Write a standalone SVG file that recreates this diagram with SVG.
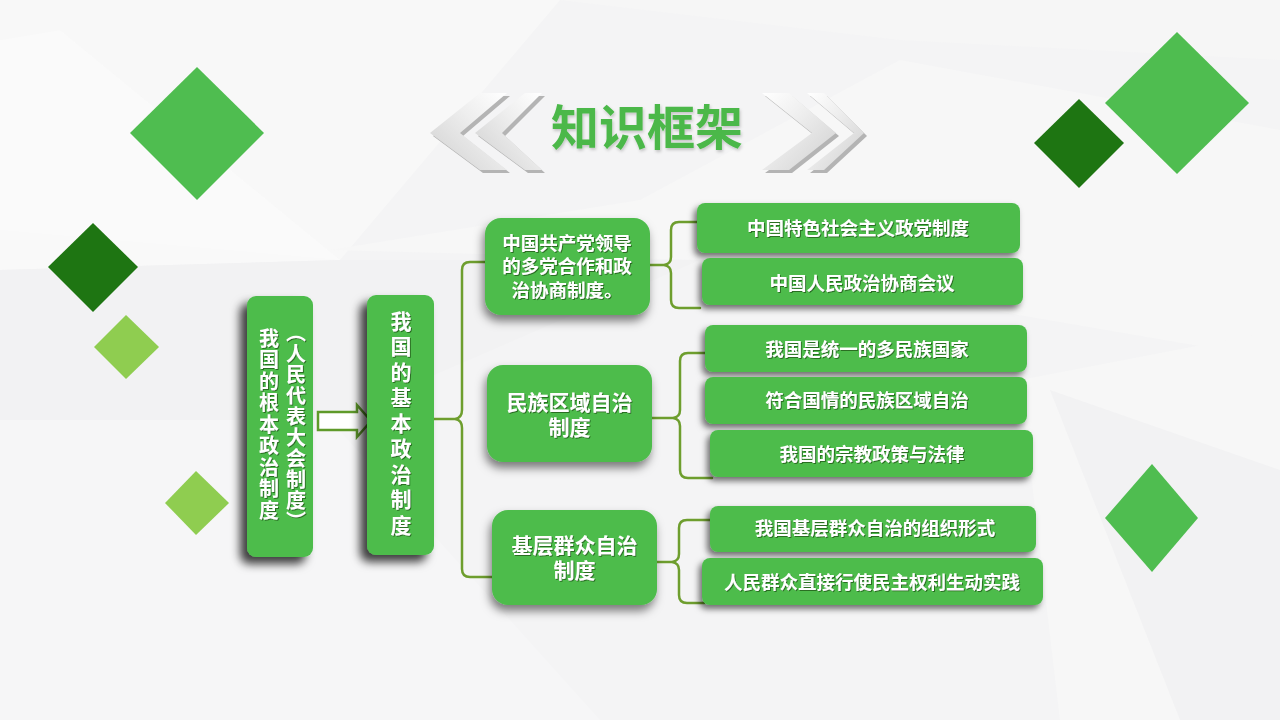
<svg xmlns="http://www.w3.org/2000/svg" width="1280" height="720" viewBox="0 0 1280 720">
<defs>
<style>
.node{fill:#4dbc4c;}
.t{font-family:"Noto Sans CJK SC","Noto Sans",sans-serif;font-weight:700;fill:#ffffff;}
.brace{fill:none;stroke:#6e9e2e;stroke-width:2.5;stroke-linecap:round;stroke-linejoin:round;}
.chev{fill:url(#chevG);}
.chevS{fill:#b4b4b4;}
</style>
<linearGradient id="chevG" x1="0" y1="1" x2="1" y2="0">
<stop offset="0" stop-color="#cfcfcf"/>
<stop offset="0.6" stop-color="#eeeeee"/>
<stop offset="1" stop-color="#ffffff"/>
</linearGradient>
<linearGradient id="chevG2" x1="1" y1="1" x2="0" y2="0">
<stop offset="0" stop-color="#cfcfcf"/>
<stop offset="0.6" stop-color="#eeeeee"/>
<stop offset="1" stop-color="#ffffff"/>
</linearGradient>
<filter id="shV" x="-40%" y="-10%" width="160%" height="125%">
<feDropShadow dx="-7" dy="7" stdDeviation="5" flood-color="#000" flood-opacity="0.75"/>
</filter>
<filter id="shM" x="-20%" y="-20%" width="140%" height="150%">
<feDropShadow dx="-2" dy="6" stdDeviation="5" flood-color="#000" flood-opacity="0.5"/>
</filter>
<filter id="shR" x="-10%" y="-30%" width="120%" height="170%">
<feDropShadow dx="-3" dy="4" stdDeviation="3" flood-color="#000" flood-opacity="0.55"/>
</filter>
<filter id="shT" x="-10%" y="-10%" width="120%" height="130%">
<feDropShadow dx="1" dy="1" stdDeviation="0.6" flood-color="#1a4d12" flood-opacity="0.7"/>
</filter>
<filter id="shTitle" x="-10%" y="-10%" width="120%" height="130%">
<feDropShadow dx="1" dy="2" stdDeviation="1.5" flood-color="#000" flood-opacity="0.2"/>
</filter>
</defs>

<g id="background">
<rect x="0" y="0" width="1280" height="720" fill="#f4f4f5"/>
<polygon points="0,0 560,0 340,260 0,230" fill="#f8f8f8"/>
<polygon points="0,40 60,30 340,260 0,270" fill="#fafafa" opacity="0.8"/>
<polygon points="330,250 640,200 900,60 1280,130 1280,360 700,260" fill="#f7f7f7"/>
<polygon points="0,270 340,260 700,260 330,420 0,420" fill="#f2f2f3"/>
<polygon points="0,420 330,420 600,720 0,720" fill="#f6f6f7"/>
<polygon points="1020,380 1280,330 1280,720 1060,720" fill="#f7f7f7"/>
<polygon points="1050,390 1280,470 1280,720 1180,720" fill="#f2f2f3"/>
<polygon points="560,0 1280,0 1280,60 900,40" fill="#f6f6f6"/>
</g>

<g id="diamonds">
<polygon points="197,67 264,133 197,200 130,133" fill="#4fbd50"/>
<polygon points="93,223 138,267 93,312 48,267" fill="#1e7512"/>
<polygon points="126,315 159,347 126,379 94,347" fill="#8fcd50"/>
<polygon points="196,471 229,503 196,535 165,503" fill="#8fcd50"/>
<polygon points="1177,32 1249,103 1177,174 1105,103" fill="#4fbd50"/>
<polygon points="1079,99 1124,143 1079,188 1034,143" fill="#1e7512"/>
<polygon points="1152,464 1198,518 1152,572 1105,518" fill="#4fbd50"/>
</g>

<g id="title">
<polygon class="chevS" points="483,96 510,96 463,136 510,173 483,173 433,136"/>
<polygon class="chev" points="480,93 507,93 460,133 507,170 480,170 430,133"/>
<polygon class="chevS" points="528,96 545,96 505,136 545,173 528,173 478,136"/>
<polygon class="chev" points="525,93 542,93 502,133 542,170 525,170 475,133"/>
<polygon class="chevS" points="765,96 792,96 839,136 792,173 765,173 815,136"/>
<polygon points="762,93 789,93 836,133 789,170 762,170 812,133" fill="url(#chevG2)"/>
<polygon class="chevS" points="810,96 827,96 867,136 827,173 810,173 857,136"/>
<polygon points="807,93 824,93 864,133 824,170 807,170 854,133" fill="url(#chevG2)"/>
<text x="647" y="145" text-anchor="middle" font-family="Noto Sans CJK SC, sans-serif" font-weight="700" font-size="48" fill="#4cb84a" filter="url(#shTitle)">知识框架</text>
</g>

<g id="connectors">
<polygon points="318,412 357,412 357,405 371,421 357,437 357,430 318,430" fill="#ffffff" stroke="#5f9a2a" stroke-width="2.5" stroke-linejoin="miter"/>
<path class="brace" d="M434,419 L455,419 Q462,418 462,410 L462,270 Q462,262 470,262 L486,262 M455,419 Q462,420 462,428 L462,569 Q462,577 470,577 L492,577"/>
<path class="brace" d="M650,265 L664,265 Q671,264 671,257 L671,230 Q671,222 679,222 L698,222 M664,265 Q671,266 671,273 L671,300 Q671,308 679,308 L700,308"/>
<path class="brace" d="M652,418 L673,418 Q680,417 680,410 L680,361 Q680,353 688,353 L707,353 M673,418 Q680,419 680,426 L680,470 Q680,478 688,478 L712,478"/>
<path class="brace" d="M657,562 L672,562 Q679,561 679,554 L679,528 Q679,520 687,520 L712,520 M672,562 Q679,563 679,570 L679,595 Q679,603 687,603 L704,603"/>
</g>

<g id="node-root-a">
<rect class="node" x="247" y="296" width="66" height="261" rx="9" filter="url(#shV)"/>
<text class="t" x="296" y="427" font-size="20" text-anchor="middle" filter="url(#shT)" style="writing-mode:vertical-rl;letter-spacing:1px">（人民代表大会制度）</text>
<text class="t" x="269" y="425" font-size="20" text-anchor="middle" filter="url(#shT)" style="writing-mode:vertical-rl;letter-spacing:1.5px">我国的根本政治制度</text>
</g>

<g id="node-root-b">
<rect class="node" x="367" y="295" width="67" height="260" rx="9" filter="url(#shV)"/>
<text class="t" x="401" y="425" font-size="21" text-anchor="middle" filter="url(#shT)" style="writing-mode:vertical-rl;letter-spacing:4.5px">我国的基本政治制度</text>
</g>

<g id="node-m1">
<rect class="node" x="485" y="218" width="165" height="97" rx="16" filter="url(#shM)"/>
<text class="t" font-size="18.5" text-anchor="middle" filter="url(#shT)"><tspan x="567" y="250">中国共产党领导</tspan><tspan x="567" y="273">的多党合作和政</tspan><tspan x="567" y="297">治协商制度。</tspan></text>
</g>

<g id="node-m2">
<rect class="node" x="487" y="365" width="165" height="97" rx="16" filter="url(#shM)"/>
<text class="t" font-size="21" text-anchor="middle" filter="url(#shT)"><tspan x="569.5" y="410">民族区域自治</tspan><tspan x="569.5" y="435">制度</tspan></text>
</g>

<g id="node-m3">
<rect class="node" x="492" y="510" width="165" height="95" rx="16" filter="url(#shM)"/>
<text class="t" font-size="21" text-anchor="middle" filter="url(#shT)"><tspan x="574.5" y="553">基层群众自治</tspan><tspan x="574.5" y="578">制度</tspan></text>
</g>

<g id="node-r1">
<rect class="node" x="697" y="203" width="323" height="50" rx="8" filter="url(#shR)"/>
<text class="t" x="858" y="235" font-size="18.5" text-anchor="middle" filter="url(#shT)">中国特色社会主义政党制度</text>
</g>
<g id="node-r2">
<rect class="node" x="702" y="258" width="321" height="47" rx="8" filter="url(#shR)"/>
<text class="t" x="862" y="290" font-size="18.5" text-anchor="middle" filter="url(#shT)">中国人民政治协商会议</text>
</g>
<g id="node-r3">
<rect class="node" x="705" y="325" width="322" height="47" rx="8" filter="url(#shR)"/>
<text class="t" x="867" y="356" font-size="18.5" text-anchor="middle" filter="url(#shT)">我国是统一的多民族国家</text>
</g>
<g id="node-r4">
<rect class="node" x="705" y="377" width="322" height="47" rx="8" filter="url(#shR)"/>
<text class="t" x="867" y="407" font-size="18.5" text-anchor="middle" filter="url(#shT)">符合国情的民族区域自治</text>
</g>
<g id="node-r5">
<rect class="node" x="710" y="430" width="323" height="47" rx="8" filter="url(#shR)"/>
<text class="t" x="872" y="461" font-size="18.5" text-anchor="middle" filter="url(#shT)">我国的宗教政策与法律</text>
</g>
<g id="node-r6">
<rect class="node" x="710" y="506" width="326" height="46" rx="8" filter="url(#shR)"/>
<text class="t" x="875" y="535" font-size="18.5" text-anchor="middle" filter="url(#shT)">我国基层群众自治的组织形式</text>
</g>
<g id="node-r7">
<rect class="node" x="702" y="558" width="341" height="47" rx="8" filter="url(#shR)"/>
<text class="t" x="872" y="589" font-size="18.5" text-anchor="middle" filter="url(#shT)">人民群众直接行使民主权利生动实践</text>
</g>
</svg>
